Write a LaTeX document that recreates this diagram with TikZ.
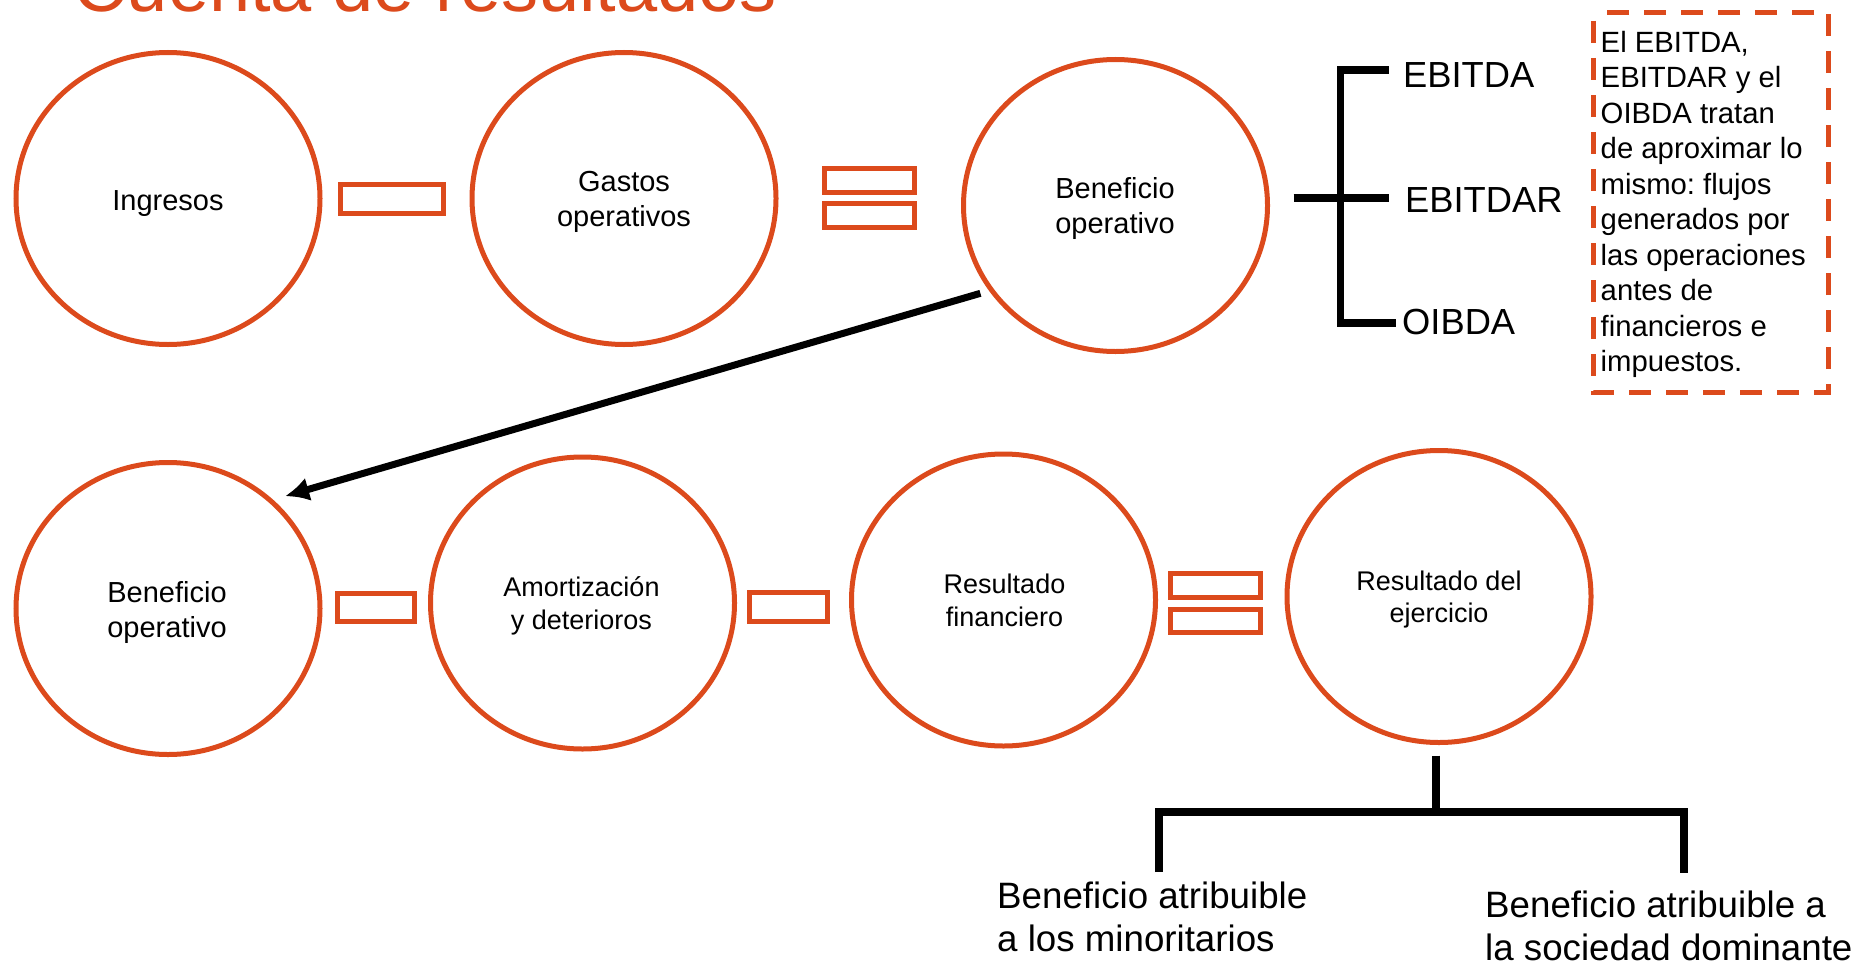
\documentclass[tikz,border=0pt]{standalone}
\usepackage{fontspec}
\setmainfont{Liberation Sans}
\usetikzlibrary{arrows.meta,shapes.geometric}
\definecolor{naranja}{RGB}{220,74,28}
\frenchspacing
\begin{document}
\begin{tikzpicture}[x=1pt,y=-1pt,
  circ/.style={ellipse, draw=naranja, line width=5pt, minimum width=304pt, minimum height=292pt, inner sep=0pt},
  lblA/.style={align=center, inner sep=0pt, font=\fontsize{29}{35}\selectfont},
  lblB/.style={align=center, inner sep=0pt, font=\fontsize{27}{32.7}\selectfont},
  opbox/.style={draw=naranja, line width=5pt, inner sep=0pt},
  brk/.style={line width=7.5pt, black},
  flecha/.style={line width=7pt, black, -{Latex[length=24pt,width=24pt]}},
  bigtxt/.style={inner sep=0pt, font=\fontsize{36.3}{43}\selectfont},
  treetxt/.style={inner sep=0pt, align=left, font=\fontsize{36.7}{43}\selectfont},
  notetxt/.style={inner sep=0pt, align=left, font=\fontsize{29.3}{35.5}\selectfont},
  titulo/.style={inner sep=0pt, text=naranja, font=\fontsize{74}{88}\selectfont}
]
\useasboundingbox (0,0) rectangle (1862,966);
\clip (0,0) rectangle (1862,966);

% title (cut off at the top)
\node[titulo, anchor=base west] (title) at (73.3,12) {Cuenta de resultados};

% row 1
\node[circ] (ing) at (168,198.5) {};
\node[lblA] (ingT) at (168,203) {\strut Ingresos};
\node[opbox, minimum width=103pt, minimum height=29pt] (m1) at (392,199) {};
\node[circ] (gas) at (624,198.5) {};
\node[lblA] (gasT) at (624,202.3) {\strut Gastos\\\strut operativos};
\node[opbox, minimum width=90pt, minimum height=24pt] (e1a) at (869.5,180.5) {};
\node[opbox, minimum width=90pt, minimum height=24pt] (e1b) at (869.5,215.5) {};
\node[circ] (ben1) at (1115.5,205.5) {};
\node[lblA] (ben1T) at (1115,208.8) {\strut Beneficio\\\strut operativo};

% bracket
\coordinate (bxs) at (1293.7,198);
\coordinate (bxm) at (1388.6,198);
\coordinate (bxt) at (1388.6,70);
\coordinate (bxv) at (1340.5,198);
\coordinate (bxb) at (1396,323);
\draw[brk] (bxt) -| (bxv) |- (bxb);
\draw[brk] (bxs) -- (bxm);
\node[bigtxt, anchor=base west] (ebitda) at (1403,88) {EBITDA};
\node[bigtxt, anchor=base west] (ebitdar) at (1405,212) {EBITDAR};
\node[bigtxt, anchor=base west] (oibda) at (1402,334) {OIBDA};

% note box
\draw[naranja, line width=5pt, dash pattern=on 22pt off 15pt, dash phase=-8pt] (1593,13) rectangle (1828,392);
\node[notetxt, anchor=north west] (nota) at (1600.5,27.15) {\strut El EBITDA,\\\strut EBITDAR y el\\\strut OIBDA tratan\\\strut de aproximar lo\\\strut mismo: flujos\\\strut generados por\\\strut las operaciones\\\strut antes de\\\strut financieros e\\\strut impuestos.};

% row 2
\node[circ] (ben2) at (168,608.5) {};
\node[lblA] (ben2T) at (167,612.8) {\strut Beneficio\\\strut operativo};
\node[opbox, minimum width=77pt, minimum height=28pt] (m2) at (376,607.5) {};
\node[circ] (amo) at (582.5,603) {};
\node[lblB] (amoT) at (581.5,606.5) {\strut Amortización\\\strut y deterioros};
\node[opbox, minimum width=78pt, minimum height=29pt] (m3) at (788.5,607) {};
\node[circ] (rfin) at (1003.5,600) {};
\node[lblB] (rfinT) at (1004.5,603.8) {\strut Resultado\\\strut financiero};
\node[opbox, minimum width=90pt, minimum height=24pt] (e2a) at (1215.5,585.5) {};
\node[opbox, minimum width=90pt, minimum height=23pt] (e2b) at (1215.5,621) {};
\node[circ] (rej) at (1439,596.5) {};
\node[lblB] (rejT) at (1439,600.1) {\strut Resultado del\\\strut ejercicio};

% arrow from row 1 to row 2
\draw[flecha, shorten <=9pt, shorten >=12.5pt] (ben1.214) -- (ben2.46);

% tree below Resultado del ejercicio
\coordinate (tj) at (1436,812);
\coordinate (tl) at (1159,872);
\coordinate (tr) at (1684,873);
\draw[brk] ([xshift=-3pt,yshift=-10.5pt]rej.south) -- (tj);
\draw[brk] (tl) |- (tj) -| (tr);
\node[treetxt, anchor=north west] (minor) at (997,877.9) {\strut Beneficio atribuible\\\strut a los minoritarios};
\node[treetxt, anchor=north west] (domin) at (1485,886.9) {\strut Beneficio atribuible a\\\strut la sociedad dominante};
\end{tikzpicture}
\end{document}
